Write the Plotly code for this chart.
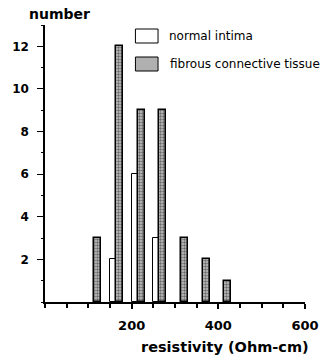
import plotly.graph_objects as go

# Histogram of tissue resistivity, two tissue classes
bins = [125, 175, 225, 275, 325, 375, 425]
normal_intima = [0, 2, 6, 3, 0, 0, 0]
fibrous_tissue = [3, 12, 9, 9, 3, 2, 1]

x_ticks = [200, 400, 600]
y_ticks = [2, 4, 6, 8, 10, 12]

font_main = "DejaVu Sans, Verdana, sans-serif"


def nonzero(xs, ys):
    pairs = [(x, y) for x, y in zip(xs, ys) if y > 0]
    return [p[0] for p in pairs], [p[1] for p in pairs]


nx, ny = nonzero(bins, normal_intima)
fx, fy = nonzero(bins, fibrous_tissue)

fig = go.Figure()
fig.add_trace(go.Bar(
    x=nx, y=ny, width=14, offset=-25,
    marker=dict(color="white", line=dict(color="black", width=1)),
    name="normal intima", showlegend=False,
))
fig.add_trace(go.Bar(
    x=fx, y=fy, width=16, offset=-11,
    marker=dict(color="#bdbdbd", line=dict(color="black", width=1.5),
                pattern=dict(shape=".", fgcolor="#111", bgcolor="#c4c4c4", size=3, solidity=0.5)),
    name="fibrous connective tissue", showlegend=False,
))

# legend boxes and labels (plot area: x 40..316 px, y 25..302 px)
def px_x(p):
    return (p - 40) / 276


def px_y(p):
    return (302 - p) / 277


fig.add_shape(type="rect", xref="paper", yref="paper",
              x0=px_x(136), x1=px_x(160), y0=px_y(43), y1=px_y(29),
              line=dict(color="black", width=1), fillcolor="white")
fig.add_shape(type="rect", xref="paper", yref="paper",
              x0=px_x(136), x1=px_x(160), y0=px_y(71), y1=px_y(57),
              line=dict(color="black", width=1), fillcolor="#b0b0b0")
fig.add_annotation(text="normal intima", xref="paper", yref="paper",
                   x=px_x(170), y=px_y(36), xanchor="left", yanchor="middle", showarrow=False,
                   font=dict(family=font_main, size=12, color="black"))
fig.add_annotation(text="fibrous connective tissue", xref="paper", yref="paper",
                   x=px_x(171), y=px_y(64), xanchor="left", yanchor="middle", showarrow=False,
                   font=dict(family=font_main, size=12, color="black"))

# axis titles
fig.add_annotation(text="number", xref="paper", yref="paper",
                   x=px_x(21), y=px_y(14), xanchor="left", yanchor="middle", showarrow=False,
                   font=dict(family=font_main, size=14, color="black", weight="bold"))
fig.add_annotation(text="resistivity (Ohm-cm)", xref="paper", yref="paper",
                   x=px_x(322), y=px_y(347), xanchor="right", yanchor="middle", showarrow=False,
                   font=dict(family=font_main, size=14.5, color="black", weight="bold"))

fig.update_layout(
    width=331, height=361,
    margin=dict(l=40, r=15, t=25, b=59),
    plot_bgcolor="white", paper_bgcolor="white",
    barmode="overlay", bargap=0,
    font=dict(family=font_main, size=12, color="black"),
)
fig.update_xaxes(
    range=[0, 600], tickvals=x_ticks, ticktext=[str(v) for v in x_ticks],
    ticks="outside", ticklen=5, tickwidth=1.5, tickcolor="black",
    minor=dict(dtick=50, tick0=0, ticks="outside", ticklen=4, tickcolor="black"),
    showline=True, linecolor="black", linewidth=1.5, showgrid=False, zeroline=False,
    tickfont=dict(family=font_main, size=13, weight="bold"),
    ticklabelstandoff=6,
)
fig.update_yaxes(
    range=[0, 13], tickvals=y_ticks, ticktext=[str(v) for v in y_ticks],
    ticks="outside", ticklen=6, tickwidth=1, tickcolor="black",
    minor=dict(dtick=1, tick0=0, ticks="outside", ticklen=2, tickcolor="black"),
    showline=True, linecolor="black", linewidth=1.5, showgrid=False, zeroline=False,
    tickfont=dict(family=font_main, size=12, weight="bold"),
    ticklabelstandoff=6,
)

fig.write_html("out.html")
